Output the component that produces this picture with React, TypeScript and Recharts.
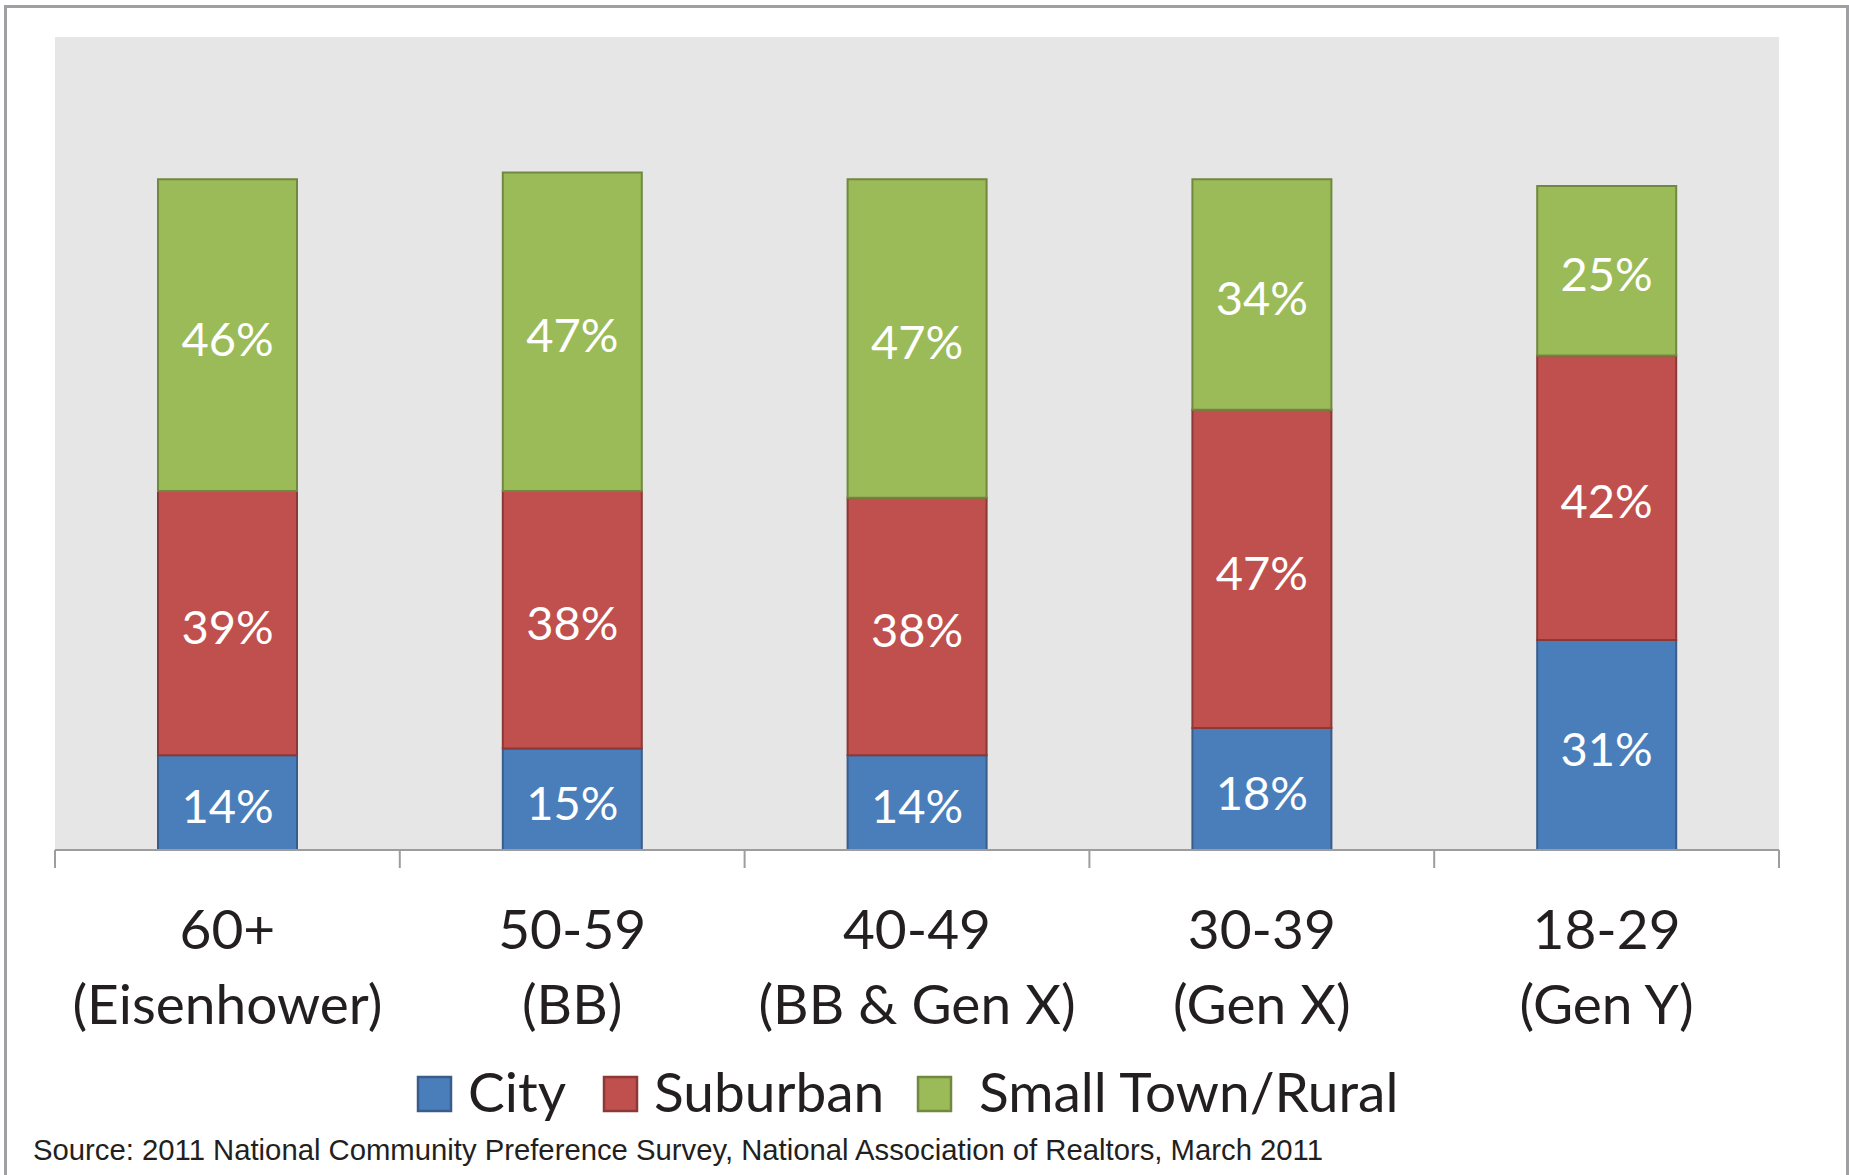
import { Bar, BarChart, CartesianGrid, LabelList, XAxis, YAxis } from 'recharts';

const W = 1849;
const H = 1175;
const MARGIN = { top: 37, right: 70, bottom: 107, left: 55 };
const BAND = (W - MARGIN.left - MARGIN.right) / 5;

const AGE_GROUPS = ['60+', '50-59', '40-49', '30-39', '18-29'];
const GENERATIONS = ['(Eisenhower)', '(BB)', '(BB & Gen X)', '(Gen X)', '(Gen Y)'];
const CITY = [14, 15, 14, 18, 31];
const SUBURBAN = [39, 38, 38, 47, 42];
const SMALL_TOWN = [46, 47, 47, 34, 25];

const SERIES = [
  { key: 'city', name: 'City', fill: '#4A7EBB', stroke: '#385D8A' },
  { key: 'suburban', name: 'Suburban', fill: '#C0504D', stroke: '#8C3836' },
  { key: 'rural', name: 'Small Town/Rural', fill: '#9BBB59', stroke: '#71893F' },
];

const data = AGE_GROUPS.map((age, i) => ({
  age,
  gen: GENERATIONS[i],
  city: CITY[i],
  suburban: SUBURBAN[i],
  rural: SMALL_TOWN[i],
}));

const TEXT = '#231F20';
const FONT = 'Lato, "Open Sans", sans-serif';

function AgeTick({ x, y, index }: any) {
  const last = index === AGE_GROUPS.length - 1;
  return (
    <g>
      <line x1={x - BAND / 2} x2={x - BAND / 2} y1={y - 18} y2={y} stroke="#9D9D9D" strokeWidth={2} />
      {last && <line x1={x + BAND / 2} x2={x + BAND / 2} y1={y - 18} y2={y} stroke="#9D9D9D" strokeWidth={2} />}
      <text x={x} y={y + 81} textAnchor="middle" fill={TEXT} fontSize={55} fontFamily={FONT}>
        {AGE_GROUPS[index]}
      </text>
      <text x={x} y={y + 156} textAnchor="middle" fill={TEXT} fontSize={55} fontFamily={FONT}>
        {GENERATIONS[index]}
      </text>
    </g>
  );
}

// legend squares / text placed like the original slide
const LEGEND_POS = [
  { box: 418, text: 468 },
  { box: 604, text: 654 },
  { box: 918, text: 979 },
];

export default function App() {
  return (
    <div style={{ position: 'absolute', left: 0, top: 0, width: W, height: H, overflow: 'hidden', background: '#fff' }}>
      <div
        style={{
          position: 'absolute',
          left: 4,
          top: 5,
          width: W - 4,
          height: H + 20,
          border: '3px solid #A0A0A4',
          boxSizing: 'border-box',
        }}
      />
      <div style={{ position: 'absolute', left: 0, top: 0 }}>
        <BarChart width={W} height={H} data={data} margin={MARGIN}>
          <CartesianGrid fill="#E6E6E6" stroke="none" horizontal={false} vertical={false} />
          <YAxis hide domain={[0, 120]} />
          <XAxis
            dataKey="age"
            height={218}
            interval={0}
            tickSize={18}
            tickMargin={0}
            tickLine={false}
            axisLine={{ stroke: '#9D9D9D', strokeWidth: 2 }}
            tick={<AgeTick />}
          />
          {SERIES.map((s) => (
            <Bar
              key={s.key}
              dataKey={s.key}
              name={s.name}
              stackId="a"
              barSize={139}
              fill={s.fill}
              stroke={s.stroke}
              strokeWidth={2}
              isAnimationActive={false}
            >
              <LabelList
                dataKey={s.key}
                position="center"
                fill="#fff"
                fontSize={47}
                fontFamily={FONT}
                dy={4}
                formatter={(v: any) => `${v}%`}
              />
            </Bar>
          ))}
        </BarChart>
      </div>
      <svg width={W} height={H} style={{ position: 'absolute', left: 0, top: 0, pointerEvents: 'none' }}>
        {SERIES.map((s, i) => (
          <g key={s.key}>
            <rect x={LEGEND_POS[i].box} y={1077} width={33} height={34} fill={s.fill} stroke={s.stroke} strokeWidth={2.5} />
            <text x={LEGEND_POS[i].text} y={1112} fill={TEXT} fontSize={55} fontFamily={FONT}>
              {s.name}
            </text>
          </g>
        ))}
        <text
          x={33}
          y={1160}
          fill={TEXT}
          fontSize={30}
          fontFamily='"Liberation Sans", Arial, sans-serif'
          textLength={1290}
          lengthAdjust="spacingAndGlyphs"
        >
          Source: 2011 National Community Preference Survey, National Association of Realtors, March 2011
        </text>
      </svg>
    </div>
  );
}
